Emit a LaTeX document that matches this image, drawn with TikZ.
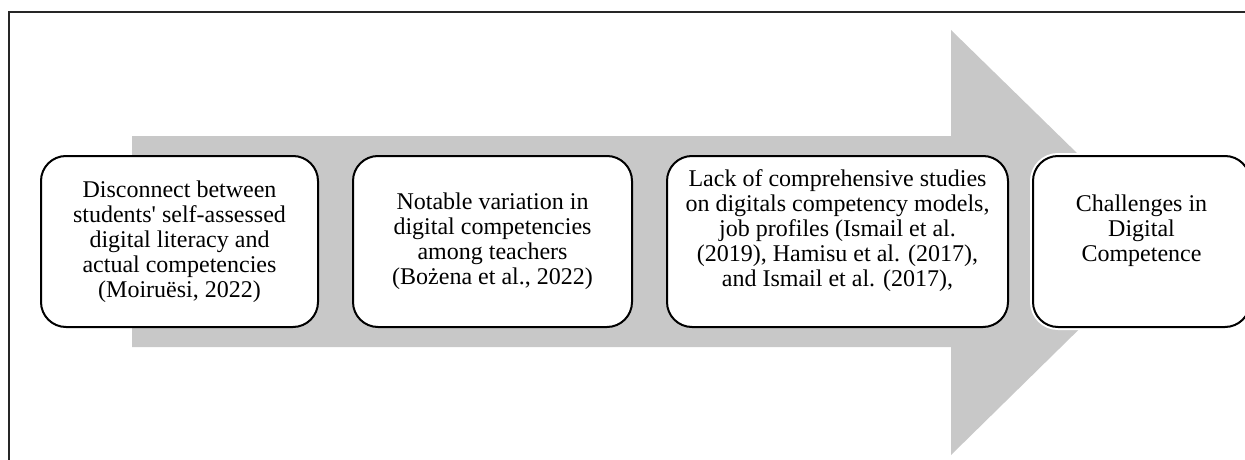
\documentclass[tikz,border=0pt]{standalone}
\usepackage{fontspec}
\setmainfont{Liberation Serif}
\usetikzlibrary{positioning}

\definecolor{arrowgray}{RGB}{200,200,200}

\begin{document}
\begin{tikzpicture}[
    x=1pt, y=-1pt,
    node_box/.style={draw=black, line width=2pt, rounded corners=25pt, fill=white,
      minimum height=171pt, inner sep=2pt, align=center,
      font=\fontsize{24}{25}\selectfont},
    node distance=33pt
  ]
    \useasboundingbox (0,0) rectangle (1245,460);
    \clip (0,0) rectangle (1245,460);

    % outer frame
    \draw[line width=1.5pt, black!85] (9,470) -- (9,12) -- (1260,12);

    % big arrow
    \fill[arrowgray] (132,136) -- (951,136) -- (951,30) -- (1168,242)
      -- (951,455) -- (951,347) -- (132,347) -- cycle;

    \node[node_box, minimum width=277pt] (disconnect) at (179.5,241.5)
      {Disconnect between\\students\textquotesingle{} self-assessed\\digital literacy and\\actual competencies\\(Moiruësi, 2022)};
    \node[node_box, minimum width=279pt, right=of disconnect] (variation)
      {Notable variation in\\digital competencies\\among teachers\\(Bożena et al., 2022)};
    \node[node_box, minimum width=341pt, right=of variation] (lack)
      {Lack of comprehensive studies\\on digitals competency models,\\job profiles (Ismail et al.\\(2019), Hamisu et al. (2017),\\and Ismail et al. (2017),\\[2pt]};
    \node[node_box, minimum width=217pt, right=23pt of lack,
      preaction={draw=white, line width=6pt}] (challenges)
      {Challenges in\\Digital\\Competence\\[2pt]};
  \end{tikzpicture}
\end{document}
